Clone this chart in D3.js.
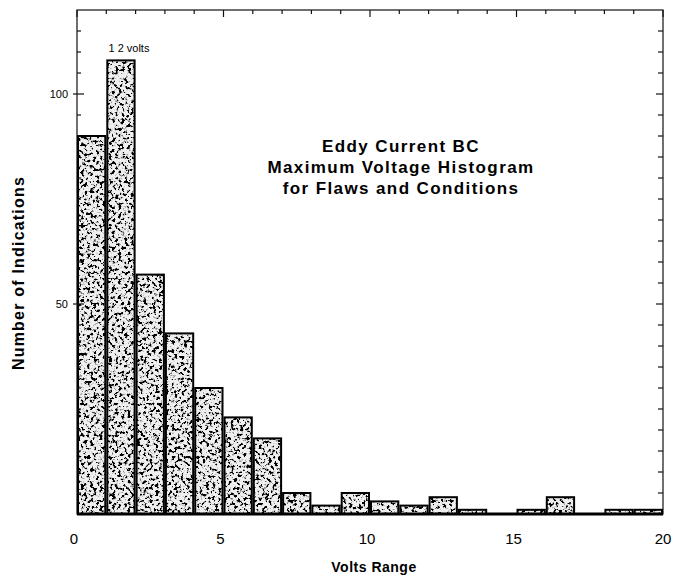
<!DOCTYPE html>
<html><head><meta charset="utf-8">
<script src="https://cdn.jsdelivr.net/npm/d3@7"></script>
<style>body{margin:0;background:#fff}svg{display:block}</style>
</head><body>
<svg id="c" width="673" height="579"></svg>
<script>
// ---- data ----
const binStarts = [0,1,2,3,4,5,6,7,8,9,10,11,12,13,14,15,16,17,18,19];
const counts    = [90,108,57,43,30,23,18,5,2,5,3,2,4,1,0,1,4,0,1,1];
const xTickLabels = [0,5,10,15,20];
const yTickLabels = [50,100];
const titleLines = ["Eddy Current BC","Maximum Voltage Histogram","for Flaws and Conditions"];
const peakLabel = "1 2 volts";
const xTitle = "Volts Range";
const yTitle = "Number of Indications";

const svg = d3.select("#c");
const L=77, R=663, T=10, B=514;
const x = d3.scaleLinear().domain([0,20]).range([L,R]);
const y = d3.scaleLinear().domain([0,120]).range([B,T]);

// speckle filter
const defs = svg.append("defs");
const f = defs.append("filter").attr("id","speckle").attr("x",0).attr("y",0).attr("width",1).attr("height",1)
  .attr("filterUnits","objectBoundingBox");
f.append("feTurbulence").attr("type","fractalNoise").attr("baseFrequency","0.32").attr("numOctaves",3).attr("seed",7).attr("result","noise");
f.append("feColorMatrix").attr("in","noise").attr("type","matrix")
  .attr("values","0 0 0 0 0  0 0 0 0 0  0 0 0 0 0  9 0 0 0 -4.6").attr("result","spk");
f.append("feComposite").attr("in","spk").attr("in2","SourceAlpha").attr("operator","in").attr("result","spk2");
const m = f.append("feMerge");
m.append("feMergeNode").attr("in","SourceGraphic");
m.append("feMergeNode").attr("in","spk2");

// frame
svg.append("rect").attr("x",L).attr("y",T).attr("width",R-L).attr("height",B-T)
  .attr("fill","none").attr("stroke","#111").attr("stroke-width",1.2);

// bars
const data = binStarts.map((s,i)=>({s, v:counts[i]}));
const gFill = svg.append("g").attr("filter","url(#speckle)");
gFill.selectAll("rect").data(data.filter(d=>d.v>0)).join("rect")
  .attr("x",d=>x(d.s)+1).attr("width",d=>x(d.s+1)-x(d.s)-2)
  .attr("y",d=>y(d.v)).attr("height",d=>y(0)-y(d.v))
  .attr("fill","#efefef");
svg.append("g").selectAll("rect").data(data.filter(d=>d.v>0)).join("rect")
  .attr("x",d=>x(d.s)+1).attr("width",d=>x(d.s+1)-x(d.s)-2)
  .attr("y",d=>y(d.v)).attr("height",d=>y(0)-y(d.v))
  .attr("fill","none").attr("stroke","#000").attr("stroke-width",2);

// baseline
svg.append("line").attr("x1",L).attr("x2",R).attr("y1",B).attr("y2",B)
  .attr("stroke","#000").attr("stroke-width",3);

// ticks: top (every 1 volt)
const topTicks = d3.range(0,21);
svg.append("g").selectAll("line").data(topTicks).join("line")
  .attr("x1",d=>x(d)).attr("x2",d=>x(d)).attr("y1",T).attr("y2",d=>T+(d%5===0?7:4))
  .attr("stroke","#111").attr("stroke-width",1.2);
// left and right ticks every 5
const yt = d3.range(5,120,5);
svg.append("g").selectAll("line").data(yt).join("line")
  .attr("x1",d=>L-(d%50===0?4:0)).attr("x2",d=>L+(d%50===0?7:4)).attr("y1",d=>y(d)).attr("y2",d=>y(d))
  .attr("stroke","#111").attr("stroke-width",1.2);
svg.append("g").selectAll("line").data(yt).join("line")
  .attr("x1",R).attr("x2",d=>R-(d%50===0?7:5)).attr("y1",d=>y(d)).attr("y2",d=>y(d))
  .attr("stroke","#111").attr("stroke-width",1.2);

// tick labels
svg.append("g").selectAll("text").data(xTickLabels).join("text")
  .attr("x",d=>x(d)-3+(d===20?3:0)).attr("y",544).attr("text-anchor","middle")
  .attr("font-family","Liberation Sans, Arial, sans-serif").attr("font-size",15)
  .text(d=>d);
svg.append("g").selectAll("text").data(yTickLabels).join("text")
  .attr("x",L-9).attr("y",d=>y(d)+4).attr("text-anchor","end")
  .attr("font-family","Liberation Sans, Arial, sans-serif").attr("font-size",11)
  .text(d=>d);

// peak label
svg.append("text").attr("x",x(1.5)+8).attr("y",52).attr("text-anchor","middle")
  .attr("font-family","Liberation Sans, Arial, sans-serif").attr("font-size",11).attr("font-weight",500)
  .text(peakLabel);

// title
svg.append("g").selectAll("text").data(titleLines).join("text")
  .attr("x",401).attr("y",(d,i)=>152+i*21).attr("text-anchor","middle")
  .attr("font-family","Liberation Sans, Arial, sans-serif").attr("font-weight","bold")
  .attr("font-size",17).attr("letter-spacing",1.4)
  .text(d=>d);

// axis titles
svg.append("text").attr("x",374).attr("y",572).attr("text-anchor","middle")
  .attr("font-family","Liberation Sans, Arial, sans-serif").attr("font-weight","bold")
  .attr("font-size",14).attr("letter-spacing",0.5).text(xTitle);
svg.append("text").attr("transform","translate(24,273) rotate(-90)").attr("text-anchor","middle")
  .attr("font-family","Liberation Sans, Arial, sans-serif").attr("font-weight","bold")
  .attr("font-size",16).attr("letter-spacing",1.2).text(yTitle);
</script>
</body></html>
